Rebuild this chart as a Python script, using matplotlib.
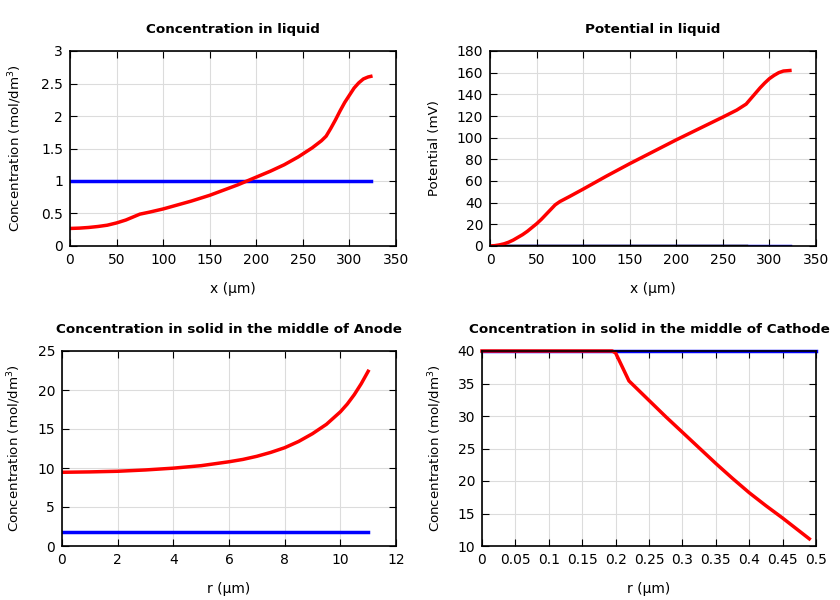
import numpy as np
import matplotlib.pyplot as plt

plt.rcParams['font.family'] = 'DejaVu Sans'
plt.rcParams['font.size'] = 10

# Concentration in liquid
x_liq = [0, 10, 20, 30, 40, 50, 60, 70, 75, 85, 100, 115, 130, 150, 165, 180, 190, 200, 215, 230,
         245, 260, 270, 275, 280, 285, 290, 295, 300, 305, 310, 315, 320, 323]
c_liq = [0.27, 0.275, 0.285, 0.30, 0.32, 0.355, 0.40, 0.46, 0.49, 0.52, 0.57, 0.63, 0.69, 0.78, 0.86,
         0.94, 1.0, 1.06, 1.15, 1.25, 1.37, 1.51, 1.62, 1.69, 1.81, 1.94, 2.08, 2.21, 2.32, 2.43, 2.51,
         2.57, 2.60, 2.61]
x_liq_init = [0, 323]
c_liq_init = [1.0, 1.0]

# Potential in liquid
x_pot = [0, 5, 10, 15, 20, 25, 30, 35, 40, 45, 50, 55, 60, 65, 70, 75, 85, 100, 125, 150, 175, 200,
         225, 250, 265, 275, 280, 285, 290, 295, 300, 305, 310, 315, 322]
phi_pot = [0, 0.3, 1, 2, 3.5, 5.5, 8, 10.5, 13.5, 17, 20.5, 24.5, 29, 33.5, 38, 41, 45.5, 52.5, 64.5,
           76, 87, 98, 108.5, 119, 125.5, 131, 136, 141, 146, 150.5, 154.5, 157.5, 160, 161.5, 162]
x_pot_init = [0, 322]
phi_pot_init = [0, 0]
x_pot_ref = [0, 275]
phi_pot_ref = [0, 0]

# Concentration in solid, anode
r_an = [0, 1, 2, 3, 4, 5, 6, 6.5, 7, 7.5, 8, 8.5, 9, 9.5, 10, 10.25, 10.5, 10.75, 11]
c_an = [9.45, 9.5, 9.58, 9.75, 9.98, 10.3, 10.8, 11.1, 11.5, 12.0, 12.6, 13.4, 14.4, 15.6, 17.2,
        18.2, 19.4, 20.8, 22.4]
r_an_init = [0, 11]
c_an_init = [1.8, 1.8]

# Concentration in solid, cathode
r_ca = [0, 0.1, 0.195, 0.2, 0.22, 0.25, 0.275, 0.3, 0.325, 0.35, 0.375, 0.4, 0.425, 0.45, 0.47, 0.49]
c_ca = [40, 40, 40, 39.7, 35.4, 32.4, 29.9, 27.5, 25.1, 22.7, 20.4, 18.2, 16.2, 14.3, 12.7, 11.1]
r_ca_init = [0, 0.5]
c_ca_init = [40, 40]

fig = plt.figure(figsize=(8.4, 6), dpi=100)

def make_ax(rect, title, xlabel, ylabel, xlim, ylim, xticks, yticks, ylpad):
    ax = fig.add_axes(rect)
    ax.set_title(title, fontweight='bold', fontsize=9.7, pad=13)
    ax.set_xlabel(xlabel, labelpad=10.5, fontsize=10)
    ax.set_ylabel(ylabel, labelpad=ylpad, fontsize=9.6)
    ax.set_xlim(xlim)
    ax.set_ylim(ylim)
    ax.set_xticks(xticks)
    ax.set_yticks(yticks)
    ax.set_xticklabels([('%g' % t) for t in xticks])
    ax.set_yticklabels([('%g' % t) for t in yticks])
    ax.grid(True, color='#dcdcdc', linewidth=0.8)
    ax.tick_params(direction='in', top=True, right=True, length=5, labelsize=10, pad=5)
    for s in ax.spines.values():
        s.set_linewidth(1.2)
    return ax

W, H = 840, 600
def rect(x0, y0, x1, y1):
    return [x0 / W, 1 - y1 / H, (x1 - x0) / W, (y1 - y0) / H]

ax1 = make_ax(rect(70, 51, 396, 246), 'Concentration in liquid', 'x (µm)',
              'Concentration (mol/dm$^3$)', (0, 350), (0, 3),
              np.arange(0, 351, 50), [0, 0.5, 1, 1.5, 2, 2.5, 3], 12.5)
ax1.plot(x_liq_init, c_liq_init, color='blue', lw=2.5)
ax1.plot(x_liq, c_liq, color='red', lw=2.5)

ax2 = make_ax(rect(490, 51, 816, 246), 'Potential in liquid', 'x (µm)',
              'Potential (mV)', (0, 350), (0, 180),
              np.arange(0, 351, 50), np.arange(0, 181, 20), 11)
ax2.plot(x_pot_init, phi_pot_init, color='blue', lw=2.5)
ax2.plot(x_pot_ref, phi_pot_ref, color='black', lw=2.5)
ax2.plot(x_pot, phi_pot, color='red', lw=2.5)

ax3 = make_ax(rect(62, 351, 396, 546), 'Concentration in solid in the middle of Anode', 'r (µm)',
              'Concentration (mol/dm$^3$)', (0, 12), (0, 25),
              np.arange(0, 13, 2), np.arange(0, 26, 5), 10.5)
ax3.plot(r_an_init, c_an_init, color='blue', lw=2.5)
ax3.plot(r_an, c_an, color='red', lw=2.5)

ax4 = make_ax(rect(482, 351, 816, 546), 'Concentration in solid in the middle of Cathode', 'r (µm)',
              'Concentration (mol/dm$^3$)', (0, 0.5), (10, 40),
              [0, 0.05, 0.1, 0.15, 0.2, 0.25, 0.3, 0.35, 0.4, 0.45, 0.5], np.arange(10, 41, 5), 10)
ax4.plot(r_ca_init, c_ca_init, color='blue', lw=2.5, clip_on=False)
ax4.plot(r_ca, c_ca, color='red', lw=2.5, clip_on=False)

fig.savefig('out.png', dpi=100)
